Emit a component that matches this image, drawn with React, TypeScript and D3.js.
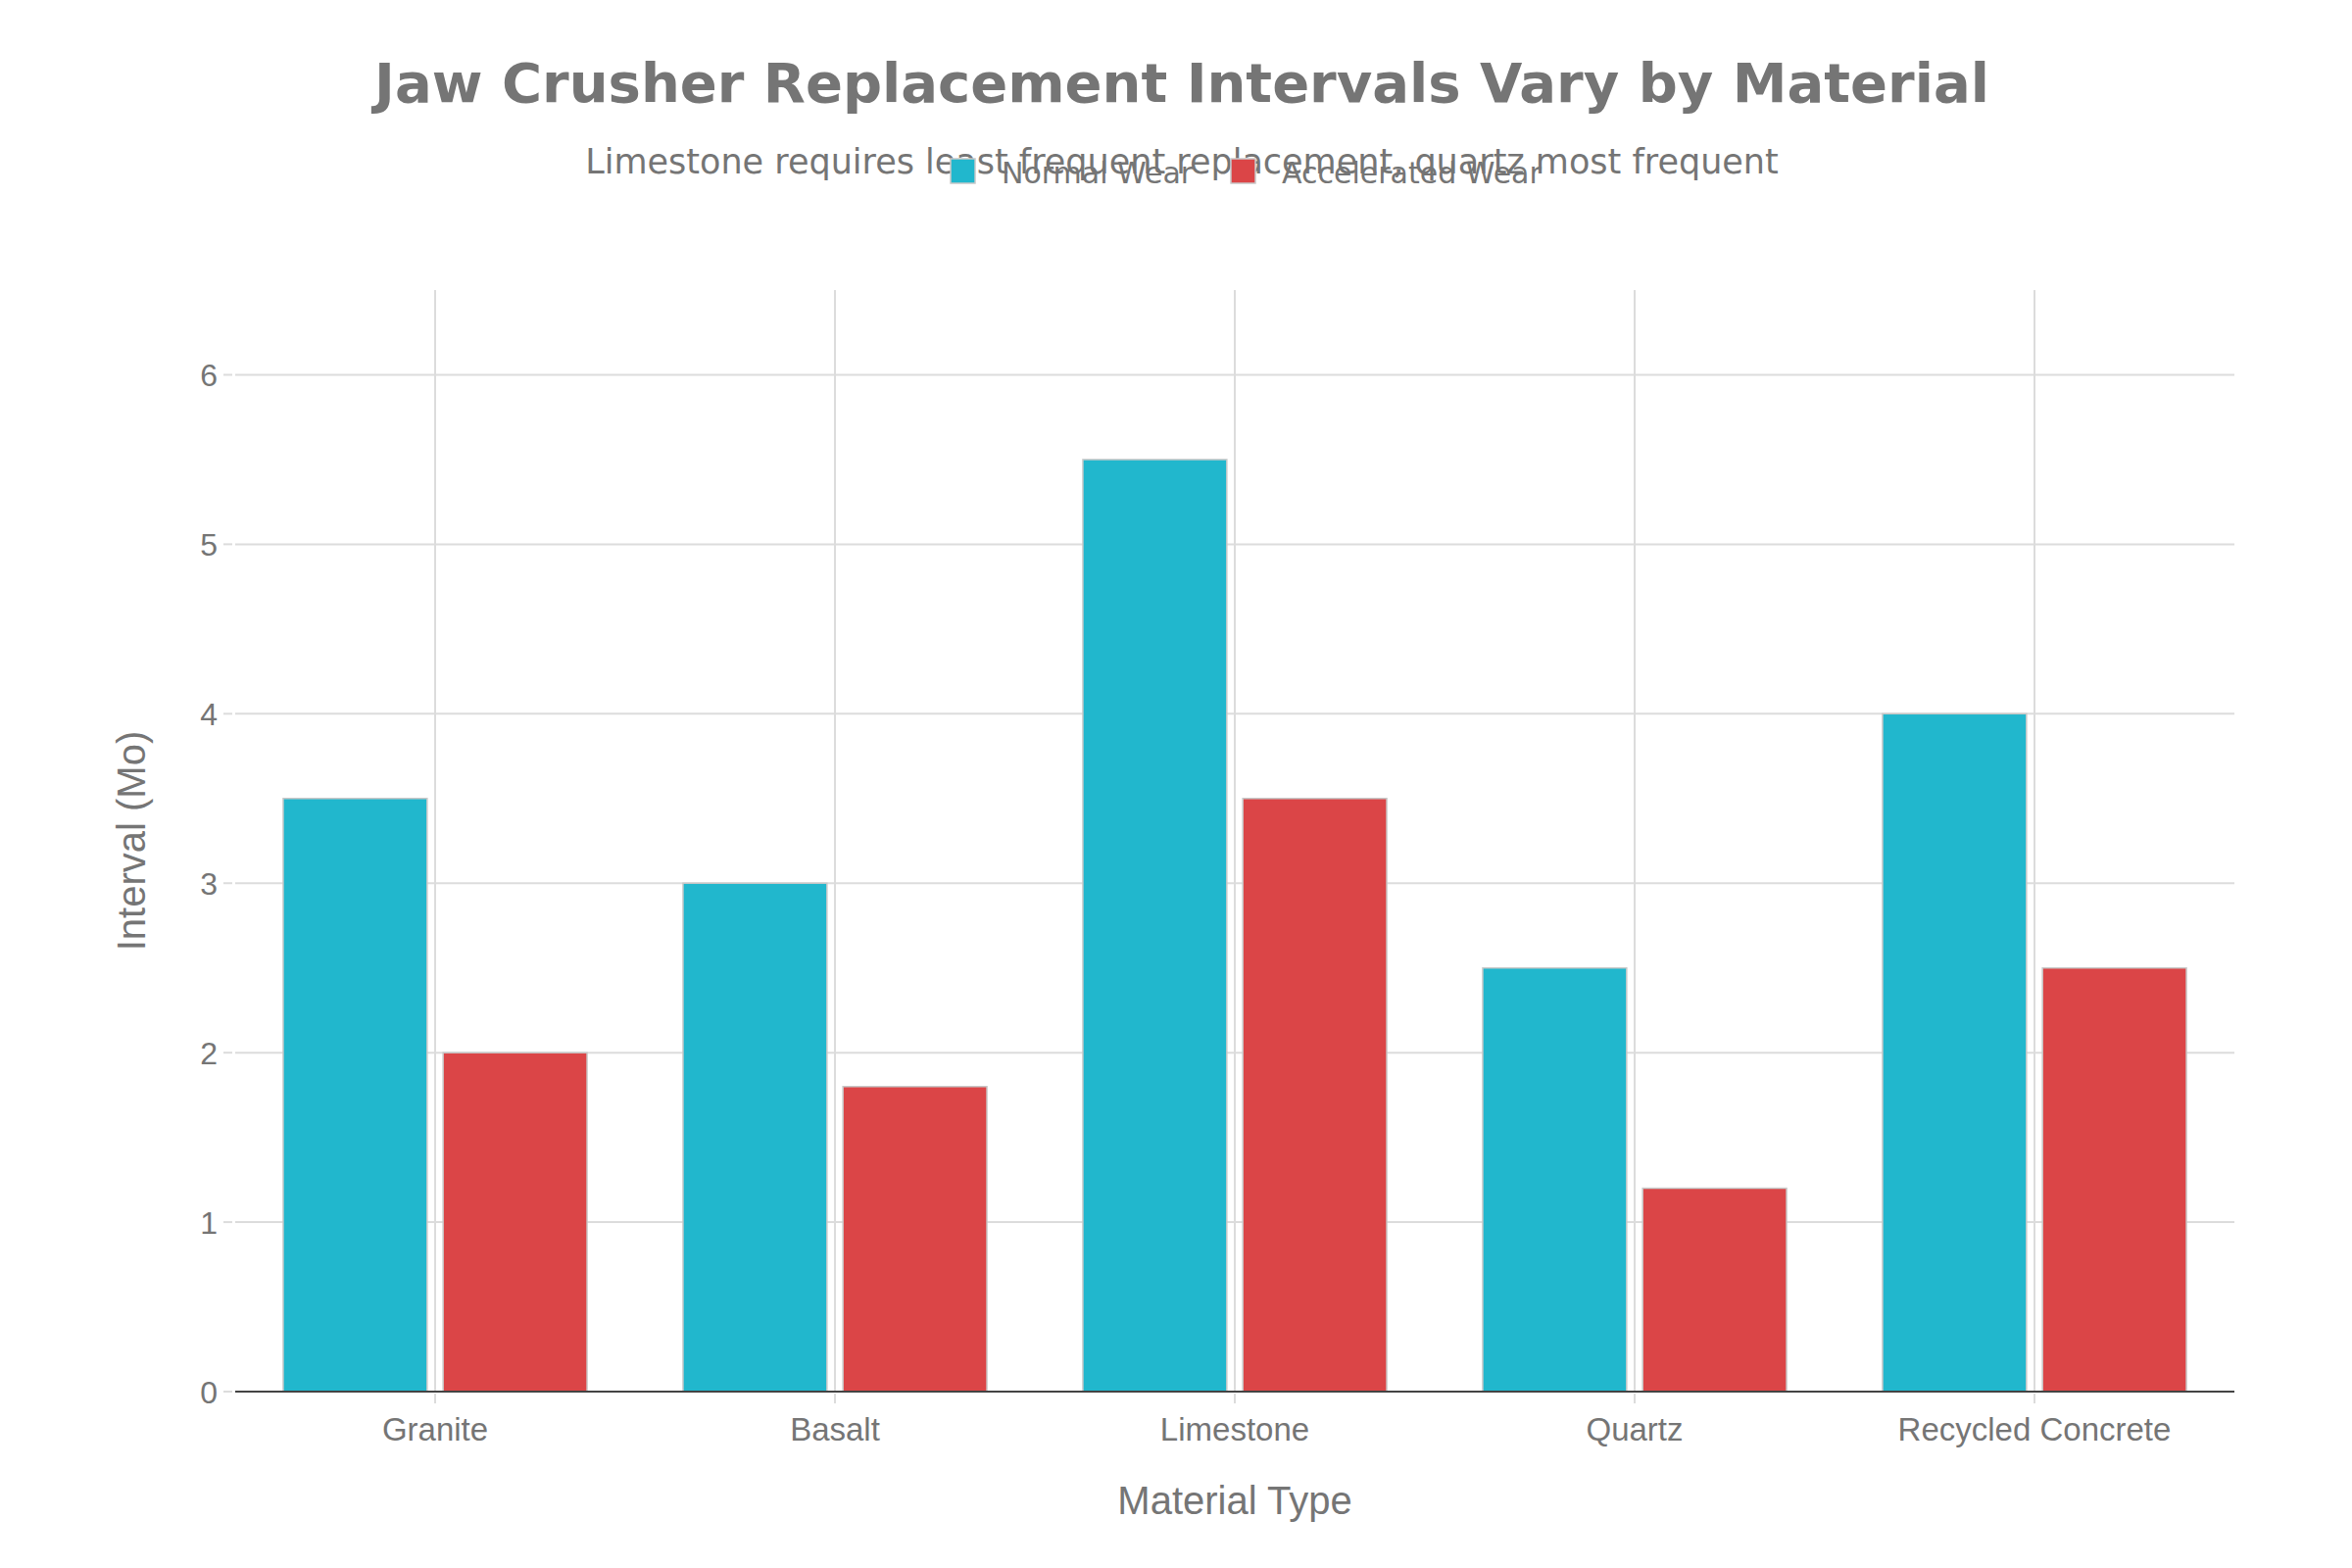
import React from 'react';
import * as d3 from 'd3';

const materials = ['Granite', 'Basalt', 'Limestone', 'Quartz', 'Recycled Concrete'];
const normalWear = [3.5, 3.0, 5.5, 2.5, 4.0];
const acceleratedWear = [2.0, 1.8, 3.5, 1.2, 2.5];
const seriesNames = ['Normal Wear', 'Accelerated Wear'];
const seriesColors = ['#21b7cd', '#db4547'];
const yTicks = [0, 1, 2, 3, 4, 5, 6];

const W = 2400;
const H = 1600;
const margin = { left: 240, right: 120, top: 296, bottom: 180 };
const textColor = '#757575';
const gridColor = '#dcdcdc';
const sans = '"Liberation Sans", Arial, sans-serif';
const deja = '"DejaVu Sans", sans-serif';

const App: React.FC = () => {
  // band with no padding: grid lines sit at category centers
  const xCenter = d3.scaleBand<string>()
    .domain(materials)
    .range([margin.left, W - margin.right]);

  // bars: bargap 0.2, groupgap 0.1
  const xInner = d3.scaleBand<string>()
    .domain(seriesNames)
    .range([0, xCenter.bandwidth() * 0.8])
    .paddingInner(0.1)
    .paddingOuter(0.05);

  const y = d3.scaleLinear()
    .domain([0, 6.5])
    .range([H - margin.bottom, margin.top]);

  const series = [normalWear, acceleratedWear];
  const plotBottom = H - margin.bottom;

  return (
    <svg
      width={W}
      height={H}
      style={{ position: 'absolute', left: 0, top: 0, background: '#fff' }}
    >
      {/* horizontal grid */}
      {yTicks.map(t => (
        <g key={'y' + t}>
          <line x1={margin.left} x2={W - margin.right} y1={y(t)} y2={y(t)} stroke={gridColor} strokeWidth={2} />
          <line x1={228} x2={237} y1={y(t)} y2={y(t)} stroke={gridColor} strokeWidth={2} />
          <text x={222} y={y(t)} dy="0.36em" textAnchor="end" fontFamily={sans} fontSize={32} fill={textColor}>
            {t}
          </text>
        </g>
      ))}

      {/* vertical grid at category centers */}
      {materials.map(m => {
        const cx = (xCenter(m) || 0) + xCenter.bandwidth() / 2;
        return (
          <g key={'x' + m}>
            <line x1={cx} x2={cx} y1={margin.top} y2={plotBottom} stroke={gridColor} strokeWidth={2} />
            <line x1={cx} x2={cx} y1={plotBottom + 2} y2={plotBottom + 12} stroke={gridColor} strokeWidth={2} />
            <text x={cx} y={plotBottom + 50} textAnchor="middle" fontFamily={sans} fontSize={33} fill={textColor}>
              {m}
            </text>
          </g>
        );
      })}

      {/* bars */}
      {series.map((vals, si) =>
        vals.map((v, i) => {
          const m = materials[i];
          const bx = (xCenter(m) || 0) + xCenter.bandwidth() * 0.1 + (xInner(seriesNames[si]) || 0);
          return (
            <rect
              key={si + '-' + m}
              x={bx}
              y={y(v)}
              width={xInner.bandwidth()}
              height={plotBottom - y(v)}
              fill={seriesColors[si]}
              stroke="#c8c8c8"
              strokeWidth={1.5}
            />
          );
        })
      )}

      {/* zero line */}
      <line x1={margin.left} x2={W - margin.right} y1={y(0)} y2={y(0)} stroke="#444" strokeWidth={2} />

      {/* axis titles */}
      <text x={(margin.left + W - margin.right) / 2} y={1545} textAnchor="middle" fontFamily={sans} fontSize={40} fill={textColor}>
        Material Type
      </text>
      <text
        transform={`translate(148, ${(margin.top + plotBottom) / 2}) rotate(-90)`}
        textAnchor="middle"
        fontFamily={sans}
        fontSize={40}
        fill={textColor}
      >
        Interval (Mo)
      </text>

      {/* title + subtitle */}
      <text x={1206} y={104} textAnchor="middle" fontFamily={deja} fontWeight="bold" fontSize={56} fill={textColor}>
        Jaw Crusher Replacement Intervals Vary by Material
      </text>
      <text x={1206} y={177} textAnchor="middle" fontFamily={deja} fontSize={35} fill={textColor}>
        Limestone requires least frequent replacement, quartz most frequent
      </text>

      {/* legend */}
      {seriesNames.map((s, i) => {
        const lx = [970, 1256][i];
        return (
          <g key={s}>
            <rect x={lx} y={162} width={25} height={25} fill={seriesColors[i]} stroke="#c8c8c8" strokeWidth={1.5} />
            <text x={lx + 52} y={187} fontFamily={deja} fontSize={30} fill={textColor}>
              {s}
            </text>
          </g>
        );
      })}
    </svg>
  );
};

export default App;
